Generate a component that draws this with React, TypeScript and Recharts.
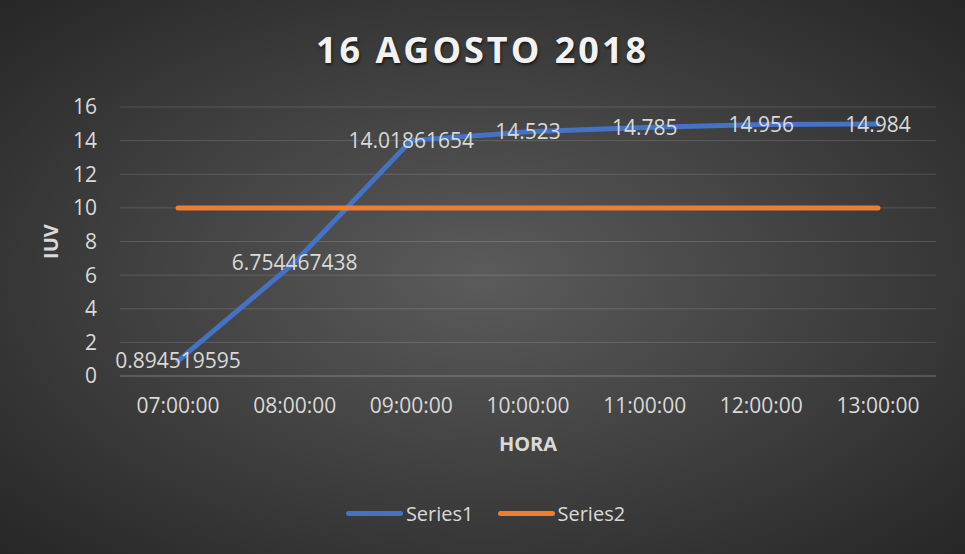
import React from "react";
import { LineChart, Line, XAxis, YAxis, CartesianGrid, LabelList, Label } from "recharts";

const horas = ["07:00:00", "08:00:00", "09:00:00", "10:00:00", "11:00:00", "12:00:00", "13:00:00"];
const series1 = [0.894519595, 6.754467438, 14.01861654, 14.523, 14.785, 14.956, 14.984];
const series2 = [10, 10, 10, 10, 10, 10, 10];
const yTicks = [0, 2, 4, 6, 8, 10, 12, 14, 16];

const data = horas.map((h, i) => ({ hora: h, Series1: series1[i], Series2: series2[i] }));

const FONT = "'Open Sans', sans-serif";
const TEXT = "#d9d9d9";
const BLUE = "#4472C4";
const ORANGE = "#ED7D31";

function IuvLabel(props: any) {
  const { viewBox } = props;
  const x = viewBox.x - 2;
  const y = viewBox.y + viewBox.height / 2;
  return (
    <text
      x={x}
      y={y}
      transform={`rotate(-90, ${x}, ${y})`}
      textAnchor="middle"
      fill={TEXT}
      fontSize={20}
      fontWeight={700}
      fontFamily={FONT}
    >
      IUV
    </text>
  );
}

function LegendItem({ color, name }: { color: string; name: string }) {
  return (
    <div style={{ display: "flex", alignItems: "center" }}>
      <span style={{ display: "inline-block", width: 57, height: 5, borderRadius: 3, background: color }} />
      <span style={{ marginLeft: 3, fontSize: 20, color: TEXT }}>{name}</span>
    </div>
  );
}

export default function App() {
  return (
    <div
      style={{
        position: "absolute",
        left: 0,
        top: 0,
        width: 965,
        height: 554,
        overflow: "hidden",
        fontFamily: FONT,
        background: "radial-gradient(ellipse farthest-corner at 50% 50%, #5b5b5b 0%, #262626 100%)",
      }}
    >
      <div
        style={{
          position: "absolute",
          top: 32,
          left: 0,
          width: 965,
          textAlign: "center",
          fontSize: 36,
          lineHeight: "36px",
          fontWeight: 700,
          letterSpacing: 3,
          color: "#f2f2f2",
          textShadow: "1px 2px 3px rgba(0,0,0,0.6)",
        }}
      >
        16 AGOSTO 2018
      </div>
      <LineChart
        width={965}
        height={554}
        data={data}
        margin={{ top: 107, right: 29, left: 60, bottom: 103 }}
        style={{ position: "absolute", left: 0, top: 0 }}
      >
        <CartesianGrid vertical={false} stroke="rgba(255,255,255,0.15)" />
        <XAxis
          dataKey="hora"
          height={75}
          padding={{ left: 58, right: 58 }}
          tickLine={false}
          tickMargin={16}
          axisLine={{ stroke: "rgba(255,255,255,0.18)" }}
          tick={{ fill: TEXT, fontSize: 21, fontFamily: FONT }}
          interval={0}
        >
          <Label
            value="HORA"
            position="insideBottom"
            offset={0}
            fill={TEXT}
            fontSize={20}
            fontWeight={700}
            fontFamily={FONT}
          />
        </XAxis>
        <YAxis
          width={60}
          domain={[0, 16]}
          ticks={yTicks}
          tickLine={false}
          axisLine={false}
          tickMargin={17}
          tick={{ fill: TEXT, fontSize: 21, fontFamily: FONT }}
        >
          <Label content={IuvLabel} />
        </YAxis>
        <Line
          dataKey="Series1"
          stroke={BLUE}
          strokeWidth={5}
          strokeLinecap="round"
          dot={false}
          isAnimationActive={false}
        >
          <LabelList dataKey="Series1" position="center" fill={TEXT} fontSize={21} fontFamily={FONT} />
        </Line>
        <Line
          dataKey="Series2"
          stroke={ORANGE}
          strokeWidth={5}
          strokeLinecap="round"
          dot={false}
          isAnimationActive={false}
        />
      </LineChart>
      <div
        style={{
          position: "absolute",
          top: 500,
          left: 3,
          width: 965,
          height: 26,
          display: "flex",
          justifyContent: "center",
          gap: 24,
        }}
      >
        <LegendItem color={BLUE} name="Series1" />
        <LegendItem color={ORANGE} name="Series2" />
      </div>
    </div>
  );
}
